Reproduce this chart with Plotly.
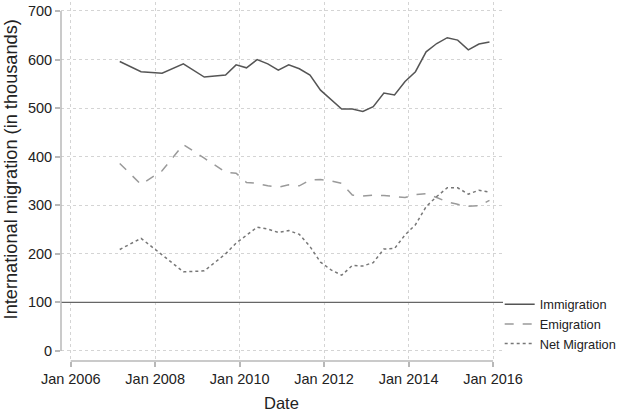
import plotly.graph_objects as go

dates = ["2007-03-01", "2007-09-01", "2008-03-01", "2008-09-01", "2009-03-01",
         "2009-09-01", "2009-12-01", "2010-03-01", "2010-06-01", "2010-09-01",
         "2010-12-01", "2011-03-01", "2011-06-01", "2011-09-01", "2011-12-01",
         "2012-03-01", "2012-06-01", "2012-09-01", "2012-12-01", "2013-03-01",
         "2013-06-01", "2013-09-01", "2013-12-01", "2014-03-01", "2014-06-01",
         "2014-09-01", "2014-12-01", "2015-03-01", "2015-06-01", "2015-09-01",
         "2015-12-01"]
immigration = [596, 575, 572, 591, 564, 568, 589, 583, 600, 591, 578, 589, 581, 568, 537,
               517, 498, 498, 493, 503, 531, 527, 555, 575, 616, 633, 645, 640, 620, 632, 636]
emigration = [386, 343, 371, 425, 397, 368, 366, 347, 345, 340, 337, 342, 340, 352, 353,
              350, 345, 321, 319, 321, 320, 318, 316, 322, 324, 316, 307, 302, 298, 299, 310]
net_migration = [209, 232, 198, 163, 165, 200, 222, 239, 255, 251, 244, 248, 240, 215, 183,
                 167, 156, 176, 175, 182, 210, 211, 239, 260, 297, 318, 336, 336, 323, 331, 327]

x_ticks = ["2006-01-01", "2008-01-01", "2010-01-01", "2012-01-01", "2014-01-01", "2016-01-01"]
x_ticklabels = ["Jan 2006", "Jan 2008", "Jan 2010", "Jan 2012", "Jan 2014", "Jan 2016"]
y_ticks = [0, 100, 200, 300, 400, 500, 600, 700]

FONT = "Liberation Sans, Arial, Helvetica, sans-serif"
AXIS_GREY = "#b8b8b8"

fig = go.Figure()
fig.add_trace(go.Scatter(x=dates, y=immigration, mode="lines", name="Immigration",
                         line=dict(color="#555555", width=1.5, dash="solid")))
fig.add_trace(go.Scatter(x=dates, y=emigration, mode="lines", name="Emigration",
                         line=dict(color="#9a9a9a", width=1.5, dash="dash")))
fig.add_trace(go.Scatter(x=dates, y=net_migration, mode="lines", name="Net Migration",
                         line=dict(color="#777777", width=1.5, dash="dot")))

# reference line at 100
fig.add_shape(type="line", xref="paper", x0=0, x1=1, yref="y", y0=100, y1=100,
              line=dict(color="#666666", width=1.2), layer="above")
# detached axis lines
fig.add_shape(type="line", xref="paper", x0=0, x1=0, yref="y", y0=y_ticks[0], y1=y_ticks[-1],
              line=dict(color=AXIS_GREY, width=1.5), layer="above")
fig.add_shape(type="line", xref="x", x0=x_ticks[0], x1=x_ticks[-1], yref="paper", y0=0, y1=0,
              line=dict(color=AXIS_GREY, width=1.5), layer="above")

fig.update_layout(
    width=621, height=412,
    margin=dict(l=61, r=118, t=2, b=51, autoexpand=False),
    paper_bgcolor="white", plot_bgcolor="white",
    font=dict(family=FONT, color="#222222", size=14),
    showlegend=True,
    legend=dict(x=0.9925, xanchor="left", y=0.103, yanchor="middle",
                font=dict(size=12.8, color="#222222"), bgcolor="rgba(0,0,0,0)",
                borderwidth=0),
    xaxis=dict(
        range=["2005-10-09", "2016-03-27"], type="date",
        tickvals=x_ticks, ticktext=x_ticklabels,
        showgrid=True, gridcolor="#d4d4d4", griddash="dot", gridwidth=1,
        showline=False, zeroline=False,
        ticks="outside", ticklen=5, tickcolor=AXIS_GREY, tickwidth=1.5,
        tickfont=dict(size=14.5, color="#222222"),
    ),
    yaxis=dict(
        range=[-20.6, 718.5],
        tickvals=y_ticks,
        showgrid=True, gridcolor="#d4d4d4", griddash="dot", gridwidth=1,
        showline=False, zeroline=False,
        ticks="outside", ticklen=5, tickcolor=AXIS_GREY, tickwidth=1.5,
        tickfont=dict(size=14.5, color="#222222"),
    ),
    annotations=[
        dict(text="International migration (in thousands)", textangle=-90,
             xref="paper", yref="paper", x=-0.1143, y=0.535,
             xanchor="center", yanchor="middle", showarrow=False,
             font=dict(size=18.2, color="#222222")),
        dict(text="Date", xref="paper", yref="paper", x=0.4993, y=-0.117,
             xanchor="center", yanchor="middle", showarrow=False,
             font=dict(size=16.5, color="#222222")),
    ],
)

fig.write_html("out.html")
